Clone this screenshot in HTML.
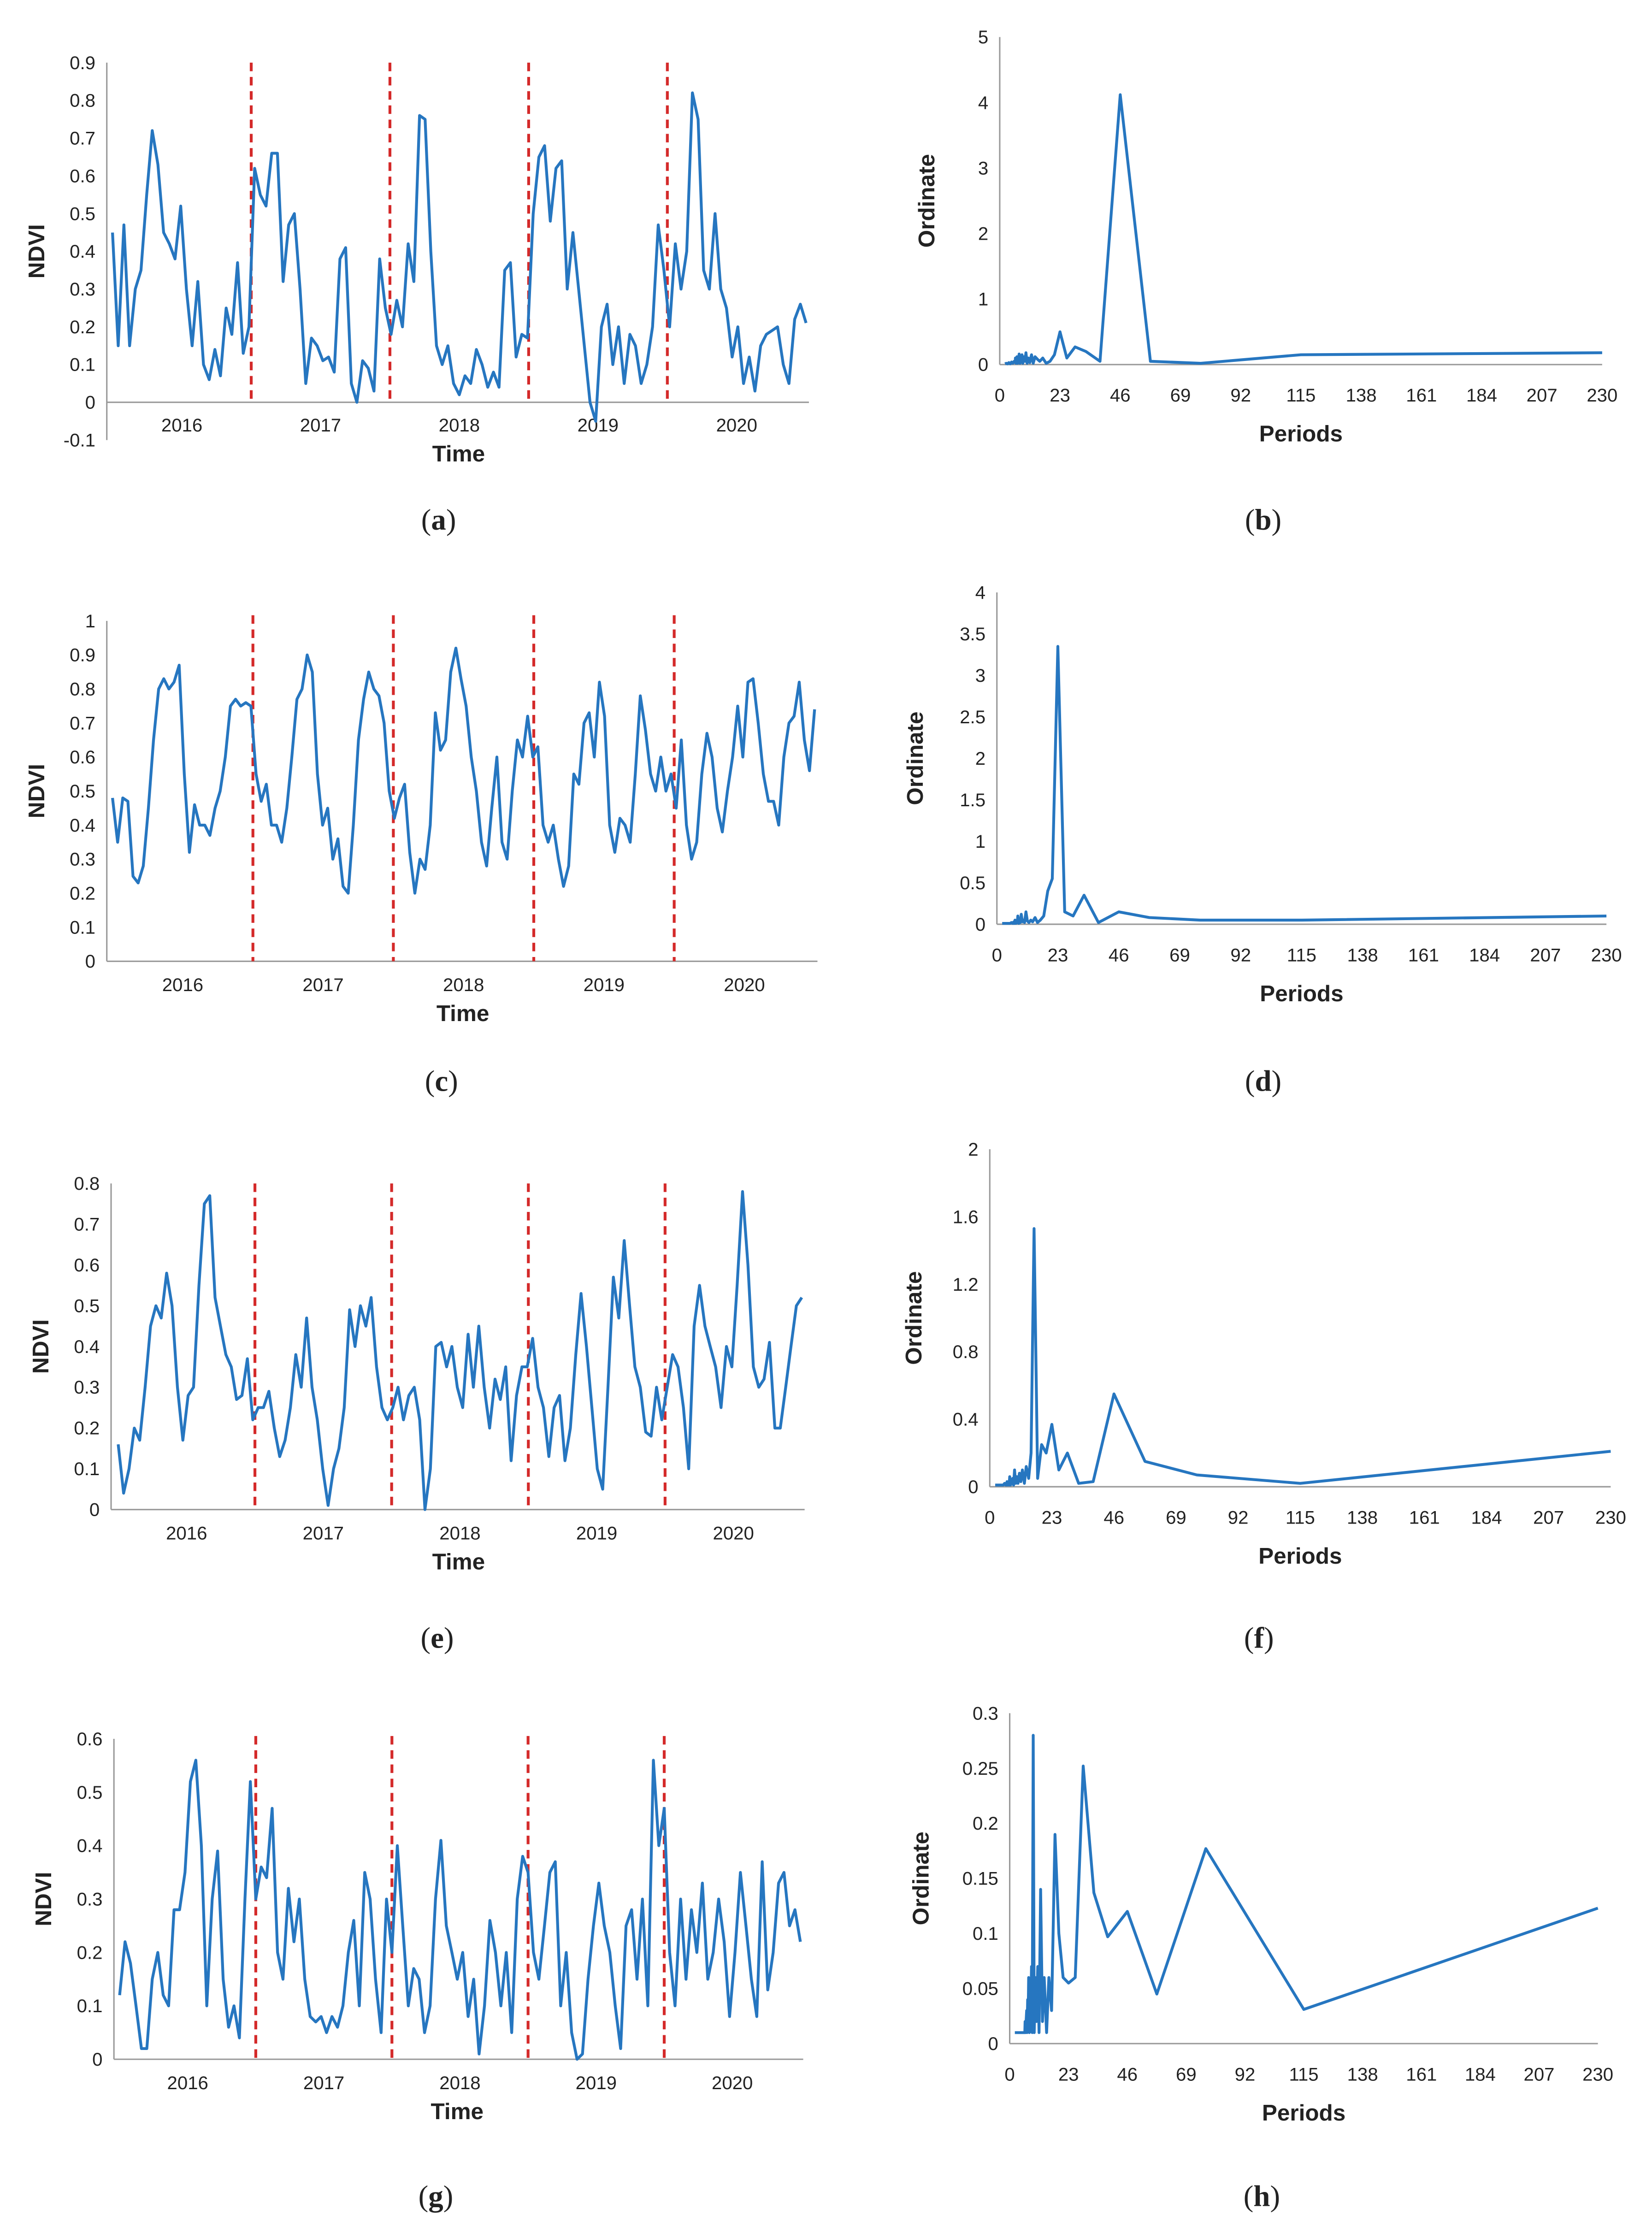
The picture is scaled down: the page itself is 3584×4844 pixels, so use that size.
<!DOCTYPE html>
<html><head><meta charset="utf-8"><style>
html,body{margin:0;padding:0;background:#fff}
svg{display:block}
text{font-family:"Liberation Sans",sans-serif;fill:#222}
.cap{font-family:"Liberation Serif",serif;font-size:21px}
</style></head><body>
<svg id="fig" xmlns="http://www.w3.org/2000/svg" width="3584" height="4844" viewBox="0 0 1160 1568" preserveAspectRatio="none"></svg>
<script>
// ---- data: time series (NDVI) ----
const ndviA = [0.45,0.15,0.47,0.15,0.3,0.35,0.55,0.72,0.63,0.45,0.42,0.38,0.52,0.3,0.15,0.32,0.1,0.06,0.14,0.07,0.25,0.18,0.37,0.13,
0.2,0.62,0.55,0.52,0.66,0.66,0.32,0.47,0.5,0.3,0.05,0.17,0.15,0.11,0.12,0.08,0.38,0.41,0.05,0.0,0.11,0.09,0.03,0.38,
0.25,0.18,0.27,0.2,0.42,0.32,0.76,0.75,0.4,0.15,0.1,0.15,0.05,0.02,0.07,0.05,0.14,0.1,0.04,0.08,0.04,0.35,0.37,0.12,
0.18,0.17,0.5,0.65,0.68,0.48,0.62,0.64,0.3,0.45,0.3,0.15,0.0,-0.05,0.2,0.26,0.1,0.2,0.05,0.18,0.15,0.05,0.1,0.2,0.47,
0.35,0.2,0.42,0.3,0.4,0.82,0.75,0.35,0.3,0.5,0.3,0.25,0.12,0.2,0.05,0.12,0.03,0.15,0.18,0.19,0.2,0.1,0.05,0.22,0.26,0.21];
const ndviC = [0.48,0.35,0.48,0.47,0.25,0.23,0.28,0.45,0.65,0.8,0.83,0.8,0.82,0.87,0.55,0.32,0.46,0.4,0.4,0.37,0.45,0.5,0.6,0.75,0.77,0.75,0.76,0.75,
0.55,0.47,0.52,0.4,0.4,0.35,0.45,0.6,0.77,0.8,0.9,0.85,0.55,0.4,0.45,0.3,0.36,0.22,0.2,0.4,0.65,0.77,0.85,0.8,0.78,0.7,0.5,0.42,0.48,
0.52,0.32,0.2,0.3,0.27,0.4,0.73,0.62,0.65,0.85,0.92,0.83,0.75,0.6,0.5,0.35,0.28,0.45,0.6,0.35,0.3,0.5,0.65,0.6,0.72,0.6,0.63,0.4,
0.35,0.4,0.3,0.22,0.28,0.55,0.52,0.7,0.73,0.6,0.82,0.72,0.4,0.32,0.42,0.4,0.35,0.55,0.78,0.68,0.55,0.5,0.6,0.5,0.55,0.45,0.65,
0.4,0.3,0.35,0.55,0.67,0.6,0.45,0.38,0.5,0.6,0.75,0.6,0.82,0.83,0.7,0.55,0.47,0.47,0.4,0.6,0.7,0.72,0.82,0.65,0.56,0.74];
const ndviE = [0.16,0.04,0.1,0.2,0.17,0.3,0.45,0.5,0.47,0.58,0.5,0.3,0.17,0.28,0.3,0.55,0.75,0.77,0.52,0.45,0.38,0.35,0.27,0.28,0.37,0.22,0.25,0.25,0.29,
0.2,0.13,0.17,0.25,0.38,0.3,0.47,0.3,0.22,0.1,0.01,0.1,0.15,0.25,0.49,0.4,0.5,0.45,0.52,0.35,0.25,0.22,0.25,0.3,0.22,0.28,
0.3,0.22,0.0,0.1,0.4,0.41,0.35,0.4,0.3,0.25,0.43,0.3,0.45,0.3,0.2,0.32,0.27,0.35,0.12,0.28,0.35,0.35,0.42,0.3,
0.25,0.13,0.25,0.28,0.12,0.2,0.38,0.53,0.4,0.25,0.1,0.05,0.3,0.57,0.47,0.66,0.5,0.35,0.3,0.19,0.18,0.3,0.22,0.3,0.38,
0.35,0.25,0.1,0.45,0.55,0.45,0.4,0.35,0.25,0.4,0.35,0.55,0.78,0.6,0.35,0.3,0.32,0.41,0.2,0.2,0.3,0.4,0.5,0.52];
const ndviG = [0.12,0.22,0.18,0.1,0.02,0.02,0.15,0.2,0.12,0.1,0.28,0.28,0.35,0.52,0.56,0.4,0.1,0.3,0.39,0.15,0.06,0.1,0.04,0.3,0.52,0.3,0.36,0.34,
0.47,0.2,0.15,0.32,0.22,0.3,0.15,0.08,0.07,0.08,0.05,0.08,0.06,0.1,0.2,0.26,0.1,0.35,0.3,0.15,0.05,0.3,0.2,
0.4,0.25,0.1,0.17,0.15,0.05,0.1,0.3,0.41,0.25,0.2,0.15,0.2,0.08,0.15,0.01,0.1,0.26,0.2,0.1,0.2,0.05,0.3,0.38,0.35,
0.2,0.15,0.25,0.35,0.37,0.1,0.2,0.05,0.0,0.01,0.15,0.25,0.33,0.25,0.2,0.1,0.02,0.25,0.28,0.15,0.3,0.1,0.56,0.4,0.47,
0.2,0.1,0.3,0.15,0.28,0.2,0.33,0.15,0.2,0.3,0.22,0.08,0.2,0.35,0.25,0.15,0.08,0.37,0.13,0.2,0.33,0.35,0.25,0.28,0.22];
const years = ["2016","2017","2018","2019","2020"];
// ---- data: periodograms ----
const periods = [230,115,76.7,57.5,46,38.3,32.9,28.75,25.6,23,20.9,19.2,17.7,16.4,15.3,14.4,13.5,12.8,12.1,11.5,10.95,10.45,10,9.6,9.2,8.8,8.5,8.2,7.9,7.7,7.4,7.2,7.0,6.8,6.6,6.4,6.2,6.0,5.9,5.5,5,4.5,4,3.5,3,2.5,2];
const ordB = [0.18,0.15,0.02,0.05,4.12,0.05,0.2,0.27,0.1,0.5,0.15,0.05,0.02,0.1,0.05,0.08,0.12,0.02,0.15,0.03,0.1,0.02,0.18,0.05,0.12,0.02,0.15,0.04,0.08,0.02,0.16,0.03,0.1,0.02,0.12,0.05,0.02,0.1,0.03,0.05,0.02,0.04,0.01,0.03,0.01,0.02,0.01];
const ordD = [0.1,0.05,0.05,0.08,0.15,0.02,0.35,0.1,0.15,3.35,0.55,0.4,0.1,0.05,0.02,0.08,0.03,0.05,0.02,0.04,0.15,0.02,0.05,0.03,0.12,0.02,0.04,0.01,0.1,0.02,0.03,0.01,0.02,0.05,0.01,0.03,0.01,0.02,0.01,0.02,0.01,0.01,0.01,0.01,0.01,0.01,0.01];
const ordF = [0.21,0.02,0.07,0.15,0.55,0.03,0.02,0.2,0.1,0.37,0.2,0.25,0.05,1.53,0.2,0.05,0.12,0.02,0.1,0.03,0.08,0.02,0.06,0.02,0.1,0.01,0.05,0.02,0.04,0.01,0.06,0.01,0.03,0.02,0.01,0.03,0.01,0.02,0.01,0.02,0.01,0.01,0.01,0.01,0.01,0.01,0.01];
const ordH = [0.123,0.031,0.177,0.045,0.12,0.097,0.137,0.252,0.06,0.055,0.06,0.1,0.19,0.03,0.06,0.01,0.06,0.02,0.14,0.01,0.07,0.02,0.06,0.01,0.28,0.01,0.07,0.02,0.05,0.01,0.06,0.02,0.04,0.01,0.03,0.02,0.01,0.02,0.01,0.01,0.01,0.01,0.01,0.01,0.01,0.01,0.01];
const perTicks = [0,23,46,69,92,115,138,161,184,207,230];

const NS="http://www.w3.org/2000/svg";
const svg=document.getElementById('fig');
function el(tag,attrs,parent,txt){const e=document.createElementNS(NS,tag);for(const k in attrs)e.setAttribute(k,attrs[k]);if(txt!==undefined)e.textContent=txt;(parent||svg).appendChild(e);return e;}
const BLUE="#2676c0", RED="#d42a2a", AX="#999";

function timePanel(id,vals,cfg){
  const g=el('g',{});
  
  
  const y=v=>cfg.y0+(v-0)*(cfg.y1-cfg.y0)/(cfg.v1);
  const xs=cfg.xs, xe=cfg.xe, yw=(xe-xs)/5;
  const x=i=>xs+i*(xe-xs)/(vals.length-1);
  // axes
  el('line',{x1:cfg.ax,y1:y(cfg.vmin),x2:cfg.ax,y2:y(cfg.v1),stroke:AX,'stroke-width':1},g);
  el('line',{x1:cfg.ax,y1:y(0),x2:xe+2,y2:y(0),stroke:AX,'stroke-width':1},g);
  for(let v=cfg.vmin;v<=cfg.v1+1e-9;v+=cfg.step){
    const t=el('text',{x:cfg.ax-8,y:y(v)+4.5,'text-anchor':'end','font-size':13},g,(Math.round(v*10)/10).toString());
    
  }
  years.forEach((yr,i)=>{
    const t=el('text',{x:xs+yw*(i+0.5),y:cfg.yl,'text-anchor':'middle','font-size':13},g,yr);
    
    if(i>0){const d=el('line',{x1:xs+yw*i,y1:cfg.dTop,x2:xs+yw*i,y2:y(cfg.vmin<0?0:0)+ (cfg.vmin<0?0:0),stroke:RED,'stroke-width':2,'stroke-dasharray':'6,4'},g);
      }
  });
  const pts=vals.map((v,i)=>x(i).toFixed(1)+','+y(v).toFixed(1)).join(' ');
  const pl=el('polyline',{points:pts,fill:'none',stroke:BLUE,'stroke-width':2,'stroke-linejoin':'round'},g);
  
  const yt=el('text',{x:0,y:0,'font-size':16,'font-weight':'bold','text-anchor':'middle',transform:`translate(${cfg.ax-44},${(y(cfg.vmin)+y(cfg.v1))/2}) rotate(-90)`},g,'NDVI');
  
  const xt=el('text',{x:cfg.tx,y:cfg.yl+21,'font-size':16,'font-weight':'bold','text-anchor':'middle'},g,'Time');
  
}
function perPanel(id,vals,cfg){
  const g=el('g',{});
  
  
  const x=p=>cfg.x0+p*(cfg.x1-cfg.x0)/230;
  const y=v=>cfg.y0+v*(cfg.y1-cfg.y0)/cfg.vmax;
  el('line',{x1:x(0),y1:y(0),x2:x(0),y2:y(cfg.vmax),stroke:AX,'stroke-width':1},g);
  el('line',{x1:x(0),y1:y(0),x2:x(230),y2:y(0),stroke:AX,'stroke-width':1},g);
  cfg.ticks.forEach(v=>{
    const t=el('text',{x:x(0)-8,y:y(v)+4.5,'text-anchor':'end','font-size':13},g,v.toString());
    
  });
  perTicks.forEach(p=>{
    const t=el('text',{x:x(p),y:y(0)+26,'text-anchor':'middle','font-size':13},g,p.toString());
    
  });
  const pts=[...periods.map((p,i)=>[p,vals[i]])].sort((a,b)=>a[0]-b[0]).map(d=>x(d[0]).toFixed(1)+','+y(d[1]).toFixed(1)).join(' ');
  const pl=el('polyline',{points:pts,fill:'none',stroke:BLUE,'stroke-width':2,'stroke-linejoin':'round'},g);
  
  const yt=el('text',{x:0,y:0,'font-size':16,'font-weight':'bold','text-anchor':'middle',transform:`translate(${cfg.tyx},${(y(0)+y(cfg.vmax))/2}) rotate(-90)`},g,'Ordinate');
  
  const xt=el('text',{x:(x(0)+x(230))/2,y:y(0)+54,'font-size':16,'font-weight':'bold','text-anchor':'middle'},g,'Periods');
  
}
timePanel('a',ndviA,{ax:75,xs:79,xe:566,y0:282.5,y1:44,v1:0.9*1,vmin:-0.1,step:0.1,yl:303,dTop:44,tx:322});
timePanel('c',ndviC,{ax:75,xs:79,xe:572,y0:675,y1:436,v1:1,vmin:0,step:0.1,yl:696,dTop:432,tx:325});
timePanel('e',ndviE,{ax:78,xs:83,xe:563,y0:1060,y1:831,v1:0.8,vmin:0,step:0.1,yl:1081,dTop:831,tx:322});
timePanel('g',ndviG,{ax:80,xs:84,xe:562,y0:1446,y1:1221,v1:0.6,vmin:0,step:0.1,yl:1467,dTop:1219,tx:321});
perPanel('b',ordB,{x0:702,x1:1125,y0:256,y1:26,vmax:5,ticks:[0,1,2,3,4,5],tyx:656});
perPanel('d',ordD,{x0:700,x1:1128,y0:649,y1:416,vmax:4,ticks:[0,0.5,1,1.5,2,2.5,3,3.5,4],tyx:648});
perPanel('f',ordF,{x0:695,x1:1131,y0:1044,y1:807,vmax:2,ticks:[0,0.4,0.8,1.2,1.6,2],tyx:647});
perPanel('h',ordH,{x0:709,x1:1122,y0:1435,y1:1203,vmax:0.3,ticks:[0,0.05,0.1,0.15,0.2,0.25,0.3],tyx:652});
[['a',308,372],['b',887,372],['c',310,766],['d',887,766],['e',307,1157],['f',884,1157],['g',306,1549],['h',886,1549]].forEach(c=>{
  const t=el('text',{x:c[1],y:c[2],'text-anchor':'middle',class:'cap'});
  
  
  t.innerHTML='(<tspan font-weight="bold" style="font-family:Liberation Serif,serif">'+c[0]+'</tspan>)';
});
</script>
</body></html>
